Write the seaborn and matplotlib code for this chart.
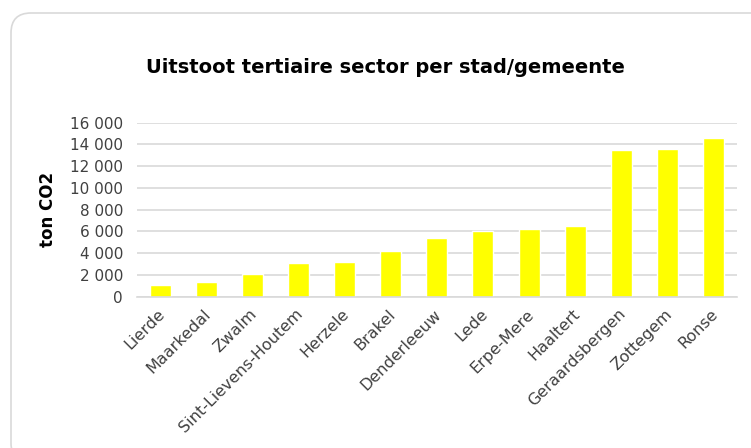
import matplotlib
matplotlib.use("Agg")
import matplotlib.pyplot as plt
import matplotlib.transforms as mtrans
import seaborn as sns
import pandas as pd
from matplotlib.patches import FancyBboxPatch
from matplotlib.ticker import FuncFormatter, MultipleLocator

cities = ["Lierde", "Maarkedal", "Zwalm", "Sint-Lievens-Houtem", "Herzele", "Brakel",
          "Denderleeuw", "Lede", "Erpe-Mere", "Haaltert", "Geraardsbergen", "Zottegem", "Ronse"]
values = [1050, 1380, 2110, 3100, 3190, 4200, 5400, 6070, 6250, 6530, 13460, 13610, 14590]

df = pd.DataFrame({"stad": cities, "uitstoot": values})

sns.set_theme(style="white")
plt.rcParams['font.family'] = ['DejaVu Sans']

fig = plt.figure(figsize=(7.51, 4.48), dpi=100)
border = FancyBboxPatch((0.11, -0.15), 8.0, 4.50, boxstyle="round,pad=0,rounding_size=0.2",
                        transform=fig.dpi_scale_trans, facecolor="white", edgecolor="#d9d9d9",
                        linewidth=1.2, zorder=-5)
fig.patches.append(border)

ax = fig.add_axes([0.1824, 0.3377, 0.7986, 0.3884])
ax.patch.set_alpha(0)
sns.barplot(data=df, x="stad", y="uitstoot", color="#FFFF00", saturation=1, width=0.455, ax=ax)
ax.set_ylim(0, 16000)
ax.yaxis.set_major_locator(MultipleLocator(2000))
ax.yaxis.set_major_formatter(FuncFormatter(lambda v, p: f"{int(v):,}".replace(",", " ")))
ax.grid(axis="y", color="#d9d9d9", linewidth=1.2)
ax.set_axisbelow(True)
for s in ["top", "right", "left"]:
    ax.spines[s].set_visible(False)
ax.spines["bottom"].set_color("#d9d9d9")
ax.spines["bottom"].set_linewidth(1.2)
ax.tick_params(axis="both", length=0, labelsize=11, colors="#404040")
ax.tick_params(axis="y", pad=10)
ax.tick_params(axis="x", pad=7, labelsize=11.5)
ax.set_xticks(range(len(cities)))
ax.set_xticklabels(cities, rotation=45, ha="right", va="top", rotation_mode="anchor")
shift = mtrans.ScaledTranslation(-0.03, 0, fig.dpi_scale_trans)
for lbl in ax.get_xticklabels():
    lbl.set_transform(lbl.get_transform() + shift)
ax.set_xlabel("")
ax.set_ylabel("ton CO2", fontsize=12, fontweight="bold", color="black", labelpad=9)
fig.text(0.513, 0.85, "Uitstoot tertiaire sector per stad/gemeente", ha="center", va="center",
         fontsize=14, fontweight="bold", color="black")
fig.savefig("out.png", dpi=100)
